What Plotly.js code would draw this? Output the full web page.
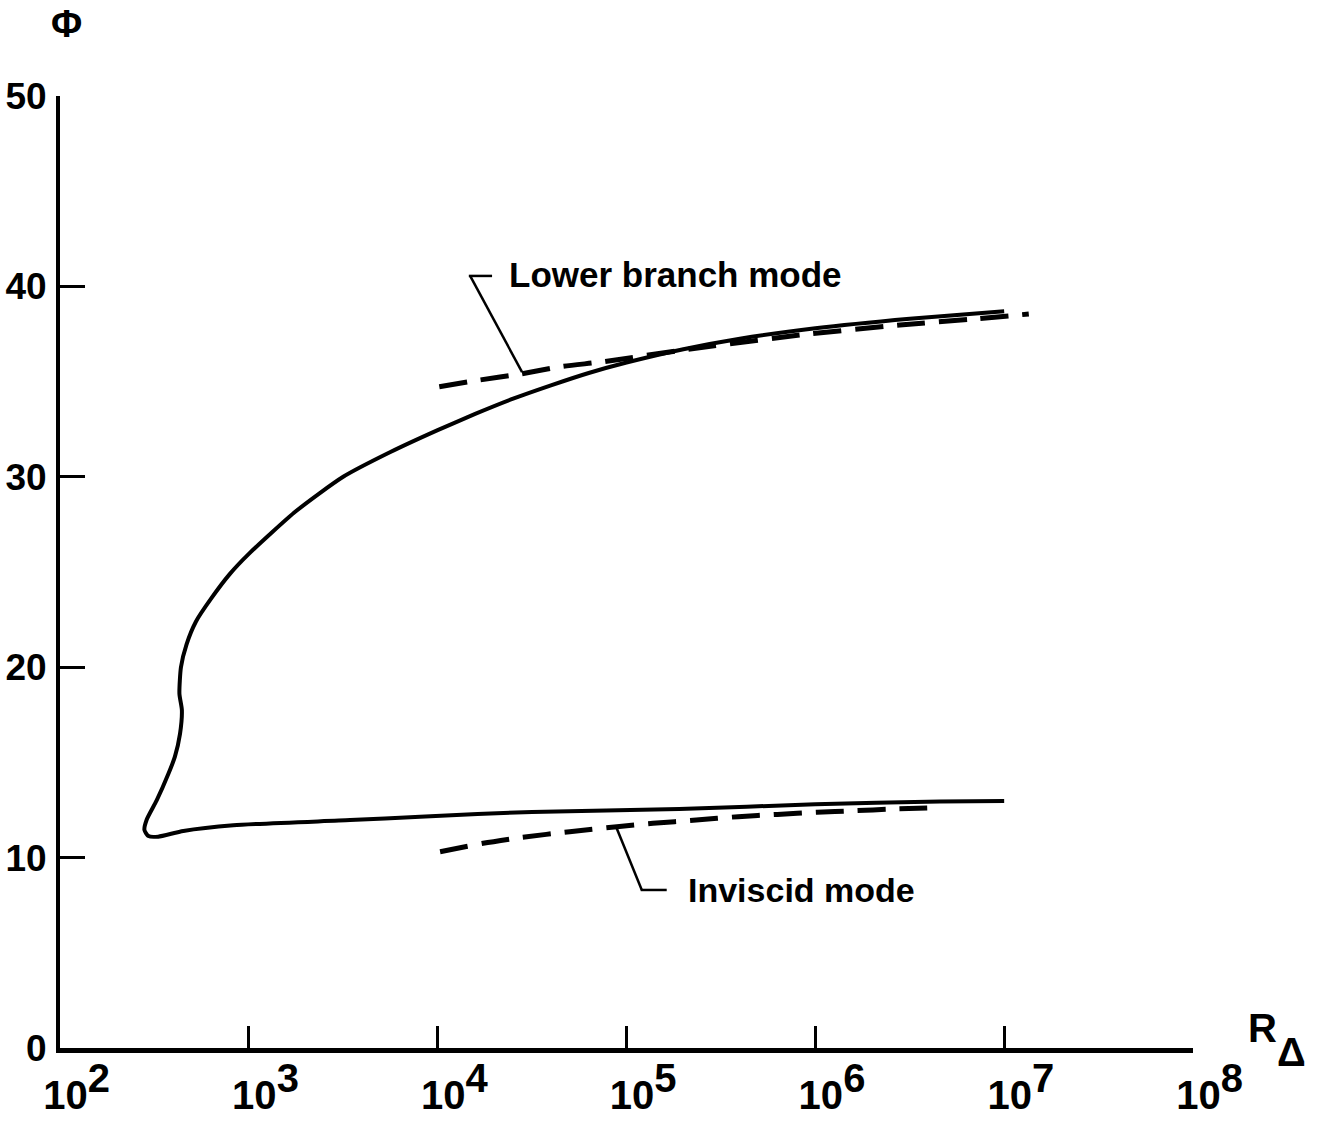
<!DOCTYPE html>
<html>
<head>
<meta charset="utf-8">
<script src="https://cdn.plot.ly/plotly-3.0.1.min.js"></script>
<style>
  html, body { margin: 0; padding: 0; background: #ffffff; }
  #chart { width: 1317px; height: 1124px; }
</style>
</head>
<body>
<div id="chart"></div>
<script>
// ---- data ----
// Solid curve: upper branch (right to left), nose, lower branch (left to right)
var solidR   = [1.0e7, 3.16e6, 1.0e6, 3.98e5, 2.0e5, 1.0e5, 6.31e4, 3.98e4, 2.51e4, 1.58e4, 1.0e4, 5620, 3160, 1780, 1000, 794, 631, 525, 468, 437, 429, 442, 432, 406, 375, 325, 288, 280, 294, 331, 450, 828, 3436, 8070, 3.16e4, 1.9e5, 1.0e6, 4.57e6, 1.0e7];
var solidPhi = [38.7, 38.3, 37.8, 37.25, 36.7, 36.0, 35.45, 34.8, 34.1, 33.3, 32.45, 31.3, 30.0, 28.2, 25.95, 24.9, 23.6, 22.4, 21.2, 20.0, 18.6, 17.75, 16.5, 15.3, 14.4, 13.0, 12.0, 11.45, 11.13, 11.1, 11.4, 11.7, 11.97, 12.15, 12.4, 12.55, 12.8, 12.94, 12.97];

// Dashed: lower branch mode asymptote
var lowerBranchR   = [1.02e4, 1.66e4, 2.75e4, 4.47e4, 7.6e4, 2.0e5, 8.3e5, 2.8e6, 7.2e6, 1.35e7];
var lowerBranchPhi = [34.73, 35.08, 35.4, 35.78, 36.05, 36.66, 37.45, 37.97, 38.3, 38.55];

// Dashed: inviscid mode asymptote
var inviscidR   = [1.03e4, 1.74e4, 2.82e4, 5.0e4, 8.9e4, 1.38e5, 2.34e5, 3.9e5, 6.3e5, 1.02e6, 1.58e6, 2.57e6, 4.27e6];
var inviscidPhi = [10.31, 10.75, 11.07, 11.36, 11.62, 11.80, 11.97, 12.15, 12.27, 12.38, 12.46, 12.55, 12.62];

// ticks
var xTickVals = [1e2, 1e3, 1e4, 1e5, 1e6, 1e7, 1e8];
var xTickExp  = ['2', '3', '4', '5', '6', '7', '8'];
var yTickVals = [0, 10, 20, 30, 40, 50];

var FONT = '"Liberation Sans Narrow", "Liberation Sans", Arial, sans-serif';
var xTickText = xTickExp.map(function (e) {
  return '\u00a0\u00a0\u00a010<sup><span style="font-size:40px">' + e + '</span></sup>';
});

var traces = [
  {
    x: solidR, y: solidPhi, type: 'scatter', mode: 'lines',
    line: { color: '#000000', width: 4, shape: 'spline', smoothing: 0.6 },
    hoverinfo: 'skip', showlegend: false
  },
  {
    x: lowerBranchR, y: lowerBranchPhi, type: 'scatter', mode: 'lines',
    line: { color: '#000000', width: 5, dash: '28px,14px', shape: 'spline', smoothing: 0.6 },
    hoverinfo: 'skip', showlegend: false
  },
  {
    x: inviscidR, y: inviscidPhi, type: 'scatter', mode: 'lines',
    line: { color: '#000000', width: 5, dash: '28px,14px', shape: 'spline', smoothing: 0.6 },
    hoverinfo: 'skip', showlegend: false
  }
];

function leader(x0, y0, x1, y1) {
  return {
    type: 'line', xref: 'x', yref: 'y', x0: x0, y0: y0, x1: x1, y1: y1,
    line: { color: '#000000', width: 2.5 }
  };
}

var layout = {
  width: 1317, height: 1124,
  margin: { l: 60, r: 124, t: 96, b: 76 },
  paper_bgcolor: '#ffffff', plot_bgcolor: '#ffffff',
  font: { family: FONT, color: '#000000', size: 36, weight: 'bold' },
  showlegend: false,
  xaxis: {
    type: 'log', range: [2, 8],
    tickmode: 'array', tickvals: xTickVals, ticktext: xTickText,
    ticks: 'inside', ticklen: 22, tickwidth: 3, tickcolor: '#000000',
    showline: true, linewidth: 5, linecolor: '#000000',
    showgrid: false, zeroline: false,
    tickfont: { family: FONT, size: 40, color: '#000000', weight: 'bold' },
    ticklabelstandoff: 8,
    fixedrange: true
  },
  yaxis: {
    range: [0, 50],
    tickmode: 'array', tickvals: yTickVals,
    ticks: 'inside', ticklen: 25, tickwidth: 3, tickcolor: '#000000',
    showline: true, linewidth: 4, linecolor: '#000000',
    showgrid: false, zeroline: false,
    tickfont: { family: FONT, size: 37, color: '#000000', weight: 'bold' },
    ticklabelstandoff: 2,
    fixedrange: true
  },
  shapes: [
    leader(27990, 35.5, 14860, 40.55),
    leader(14620, 40.55, 19410, 40.55),
    leader(88720, 11.54, 120500, 8.3),
    leader(118900, 8.3, 163300, 8.3)
  ],
  annotations: [
    { xref: 'paper', yref: 'paper', x: 0.006, y: 1.0756, xanchor: 'center', yanchor: 'middle',
      text: 'Φ', showarrow: false, font: { family: FONT, size: 38, color: '#000000', weight: 'bold' } },
    { xref: 'paper', yref: 'paper', x: 1.061, y: 0.021, xanchor: 'center', yanchor: 'middle',
      text: 'R', showarrow: false, font: { family: FONT, size: 40, color: '#000000', weight: 'bold' } },
    { xref: 'paper', yref: 'paper', x: 1.0865, y: -0.0042, xanchor: 'center', yanchor: 'middle',
      text: 'Δ', showarrow: false, font: { family: FONT, size: 40, color: '#000000', weight: 'bold' } },
    { xref: 'x', yref: 'y', x: 4.365, y: 40.6, xanchor: 'left', yanchor: 'middle',
      text: 'Lower branch mode', showarrow: false, font: { family: FONT, size: 35, color: '#000000', weight: 'bold' } },
    { xref: 'x', yref: 'y', x: 5.315, y: 8.3, xanchor: 'left', yanchor: 'middle',
      text: 'Inviscid mode', showarrow: false, font: { family: FONT, size: 34, color: '#000000', weight: 'bold' } }
  ]
};

Plotly.newPlot('chart', traces, layout, { displayModeBar: false, staticPlot: true });
</script>
</body>
</html>
